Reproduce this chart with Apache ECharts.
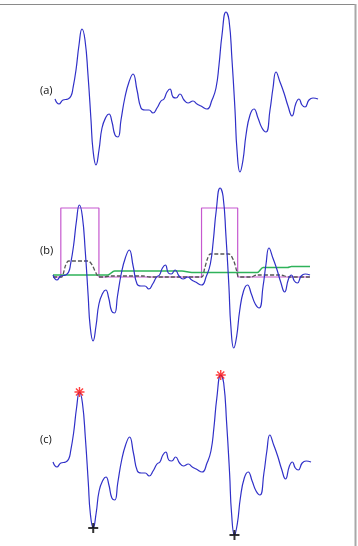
<!DOCTYPE html>
<html>
<head>
<meta charset="utf-8">
<script src="https://cdn.jsdelivr.net/npm/echarts@6/dist/echarts.min.js"></script>
<style>html,body{margin:0;padding:0;background:#fff;}#c{width:358px;height:546px;}</style>
</head>
<body>
<div id="c"></div>
<script>
// Signal samples: [time (samples), amplitude]
const signalT = [0,4,8,13,16,18,21,24,27,30,33,36,38,41,44,47,51,54,57,60,63,66,70,74,78,82,86,90,94,98,102,106,109,112,115,118,121,125,129,133,138,142,146,152,157,161,164,167,171,174,177,180,182,185,188,191,195,199,203,207,211,215,218,221,225,229,233,237,241,244,247,250,254,258,263];
const signalV = [0,-5,-1,0,3,11,29,54,70,59,24,-21,-51,-66,-51,-29,-18,-15,-23,-36,-38,-21,2,17,25,9,-9,-11,-11,-14,-9,-2,0,7,10,2,1,5,-1,-4,-2,-5,-7,-10,-1,11,34,64,87,79,39,-11,-51,-73,-61,-36,-16,-10,-19,-29,-33,-11,11,27,17,6,-7,-17,-4,0,-6,-8,-1,1,0];
// Panel (b) overlays
const gateT = [0,8,8,47,47,152,152,189,189,263];
const gateV = [-2,-2,67,67,-2,-2,67,67,-2,-2];
const greenT = [0,56,63,132,142,209,215,240,244,263];
const greenV = [0,0,4,4,2.5,2.5,7.5,7.5,8.5,8.5];
const dashT = [0,9,11,13,16,36,40,44,47,52,58,92,99,152,155,158,161,180,185,188,190,203,208,232,242,263];
const dashV = [-2,-2,3,10,14,14,10,2,-2,-2,-1,-1,-2,-2,6,16,21,21,14,4,-2,-2,0,0,-2,-2];
// Panel (c) detected points
const peakT = [27,171];
const peakV = [70,87];
const troughT = [41,185];
const troughV = [-66,-73];
const panelLabels = ['(a)','(b)','(c)'];

const zip = (a,b) => a.map((x,i)=>[x,b[i]]);
const chart = echarts.init(document.getElementById('c'), null, {renderer:'canvas'});

const grids = [
  {left:55, width:263, top:9, height:170},
  {left:53, width:257, top:185, height:170},
  {left:53, width:258, top:372, height:170}
];
const xAxes = grids.map((g,i)=>({type:'value', gridIndex:i, min:0, max:263, show:false}));
const yAxes = grids.map((g,i)=>({type:'value', gridIndex:i, min:-80, max:90, show:false}));

const blue = '#3030c8';
const asterisk = 'path://M-1,-0.14L1,-0.14L1,0.14L-1,0.14Z M0.14,-1L0.14,1L-0.14,1L-0.14,-1Z M-0.608,-0.806L0.806,0.608L0.608,0.806L-0.806,-0.608Z M0.806,-0.608L-0.608,0.806L-0.806,0.608L0.608,-0.806Z';
const plus = 'path://M-1,-0.2L-0.2,-0.2L-0.2,-1L0.2,-1L0.2,-0.2L1,-0.2L1,0.2L0.2,0.2L0.2,1L-0.2,1L-0.2,0.2L-1,0.2Z';

const sig = (i) => ({type:'line', xAxisIndex:i, yAxisIndex:i, data:zip(signalT,signalV), smooth:0.5, showSymbol:false, lineStyle:{color:blue, width:1.2}, z:5, silent:true});

const option = {
  animation:false,
  backgroundColor:'#fff',
  grid:grids,
  xAxis:xAxes,
  yAxis:yAxes,
  title: panelLabels.map((t,i)=>({text:t, left:35, top:[80,240,429][i], textStyle:{fontFamily:'Open Sans', fontSize:11, fontWeight:'normal', color:'#111'}})),
  graphic:[
    {type:'line', shape:{x1:0,y1:4.5,x2:355,y2:4.5}, style:{stroke:'#8a8a8a', lineWidth:1}},
    {type:'line', shape:{x1:355.5,y1:4,x2:355.5,y2:546}, style:{stroke:'#a8a8a8', lineWidth:2}}
  ],
  series:[
    sig(0),
    {type:'line', xAxisIndex:1, yAxisIndex:1, data:zip(gateT,gateV), showSymbol:false, lineStyle:{color:'#c658cf', width:1.2}, z:2, silent:true},
    {type:'line', xAxisIndex:1, yAxisIndex:1, data:zip(greenT,greenV), smooth:0.3, showSymbol:false, lineStyle:{color:'#2fb25a', width:1.5}, z:3, silent:true},
    {type:'line', xAxisIndex:1, yAxisIndex:1, data:zip(dashT,dashV), smooth:0.3, showSymbol:false, lineStyle:{color:'#555', width:1.3, type:[4,2]}, z:4, silent:true},
    sig(1),
    sig(2),
    {type:'scatter', xAxisIndex:2, yAxisIndex:2, data:zip(peakT,peakV), symbol:asterisk, symbolSize:10, itemStyle:{color:'#ff1010'}, z:6, silent:true},
    {type:'scatter', xAxisIndex:2, yAxisIndex:2, data:zip(troughT,troughV), symbol:plus, symbolSize:10, itemStyle:{color:'#000'}, z:6, silent:true}
  ]
};
chart.setOption(option);
</script>
</body>
</html>
